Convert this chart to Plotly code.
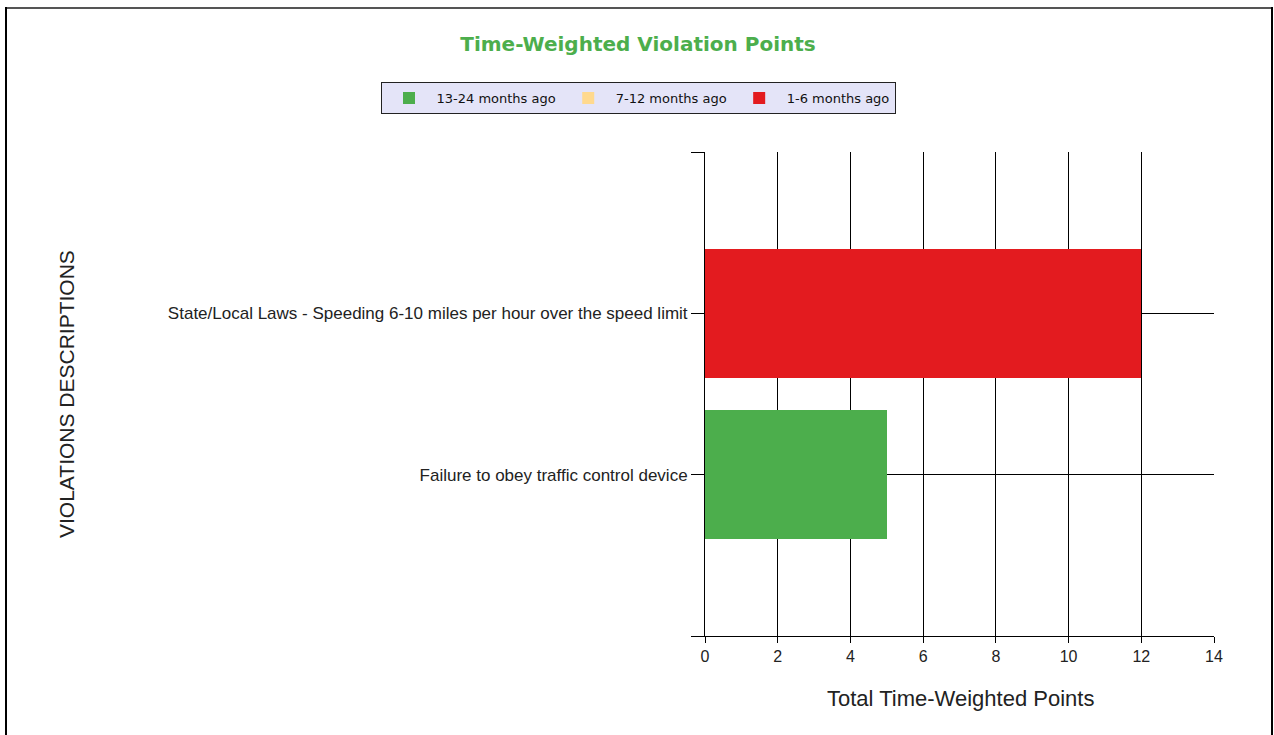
import plotly.graph_objects as go

categories = ["State/Local Laws - Speeding 6-10 miles per hour over the speed limit",
              "Failure to obey traffic control device"]
cat_pos = [2, 1]
series_names = ["13-24 months ago", "7-12 months ago", "1-6 months ago"]
series_values = [[0, 5], [0, 0], [12, 0]]
series_colors = ["#4CAE4C", "#FFD98E", "#E31B1F"]
x_ticks = [0, 2, 4, 6, 8, 10, 12, 14]

fig = go.Figure()
for name, vals, col in zip(series_names, series_values, series_colors):
    fig.add_trace(go.Bar(
        y=cat_pos, x=vals, name=name, orientation="h",
        marker=dict(color=col, line=dict(width=0)), width=0.8,
    ))

W, H = 1274, 735
L, R, T, B = 705, 60, 152, 99
pw, ph = W - L - R, H - T - B

def px(x):
    return (x - L) / pw

def py(y):
    return (H - B - y) / ph

fig.update_layout(
    width=W, height=H,
    margin=dict(l=L, r=R, t=T, b=B, autoexpand=False),
    paper_bgcolor="white", plot_bgcolor="white",
    barmode="stack",
    showlegend=True,
    title=dict(text="<b>Time-Weighted Violation Points</b>", x=638 / W, xref="container",
               xanchor="center", y=1 - 44 / H, yref="container", yanchor="middle",
               font=dict(family="DejaVu Sans", size=20, color="#4CAE4C")),
    legend=dict(orientation="h", x=px(638), xanchor="center", y=py(82), yanchor="top",
                bgcolor="#E4E4F8", bordercolor="#222222", borderwidth=1,
                font=dict(family="DejaVu Sans", size=13, color="#111111"),
                itemwidth=45, traceorder="normal", tracegroupgap=0),
    xaxis=dict(range=[0, 14], tickvals=x_ticks, showgrid=True, gridcolor="black", gridwidth=1,
               zeroline=False, showline=True, linecolor="black", mirror=False,
               ticks="outside", ticklen=6, tickcolor="black",
               tickfont=dict(family="Liberation Sans, Arial", size=16, color="#222222")),
    yaxis=dict(range=[0, 3], tickvals=[0, 1, 2, 3],
               ticktext=["", categories[1], categories[0], ""],
               showgrid=True, gridcolor="black", gridwidth=1, zeroline=False,
               showline=True, linecolor="black",
               ticks="outside", ticklen=13, tickcolor="black",
               tickfont=dict(family="Liberation Sans, Arial", size=17, color="#222222")),
    annotations=[
        dict(text="Total Time-Weighted Points", xref="paper", yref="paper",
             x=px(960), y=py(698), xanchor="center", yanchor="middle", showarrow=False,
             font=dict(family="Liberation Sans, Arial", size=22, color="#222222")),
        dict(text="VIOLATIONS DESCRIPTIONS", xref="paper", yref="paper",
             x=px(66), y=py(394), xanchor="center", yanchor="middle", showarrow=False,
             textangle=-90,
             font=dict(family="Liberation Sans, Arial", size=21, color="#222222")),
    ],
    shapes=[
        dict(type="line", xref="paper", yref="paper", x0=px(5), x1=px(1271), y0=py(8), y1=py(8),
             line=dict(color="#555555", width=2)),
        dict(type="line", xref="paper", yref="paper", x0=px(6), x1=px(6), y0=py(7), y1=py(740),
             line=dict(color="black", width=2)),
        dict(type="line", xref="paper", yref="paper", x0=px(1272), x1=px(1272), y0=py(7), y1=py(740),
             line=dict(color="black", width=2)),
    ],
)

fig.write_html("out.html", config={"displayModeBar": False},
               post_script="document.body.style.margin='0';")
